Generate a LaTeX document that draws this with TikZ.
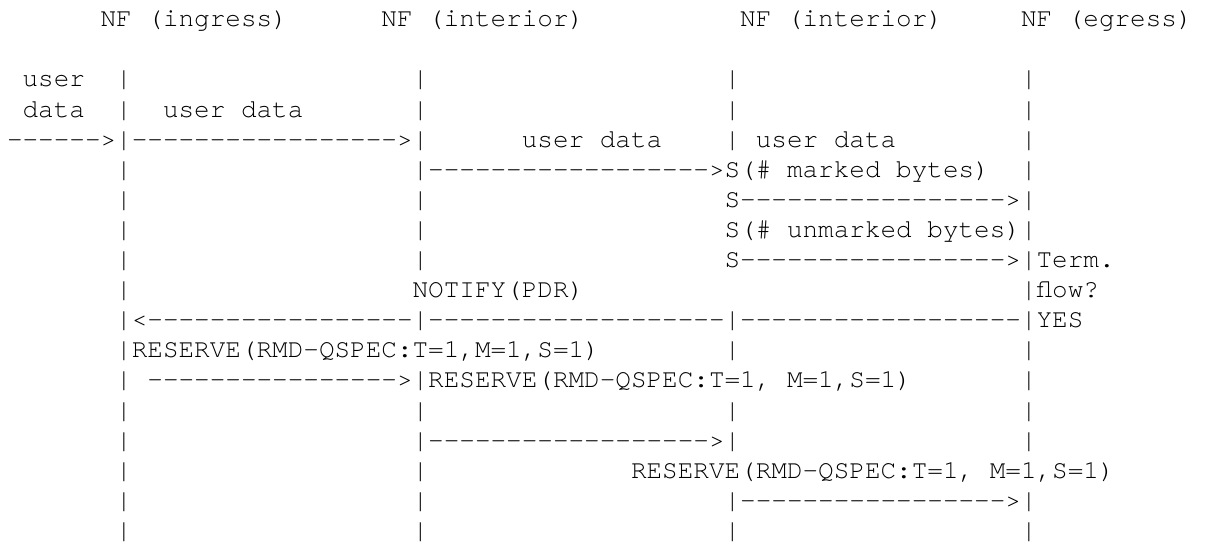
\documentclass[tikz,border=0pt]{standalone}
\usepackage{fontspec}
\setmonofont{TeX Gyre Cursor}
\ExplSyntaxOn
\cs_new:Npn \dsh #1 { \prg_replicate:nn {#1} {-} }
\ExplSyntaxOff
% character grid: left offset, cell width and row pitch in pt
\newcommand\xoff{7}
\newcommand\chw{15.6}
\newcommand\rowh{30.1}
\tikzset{
  ascii/.style={anchor=base west, inner sep=0pt, outer sep=0pt,
    font=\fontsize{26}{30}\selectfont\ttfamily, text=black},
}
% \seg{row}{column}{text}
\newcommand\seg[3]{\node[ascii] (r#1c#2) at ({\xoff+#2*\chw},{-26.7-#1*\rowh}) {#3};}
% \bars{row}{list of columns}
\newcommand\bars[2]{\foreach \c in {#2}{\seg{#1}{\c}{|}}}
\begin{document}
\begin{tikzpicture}[x=1pt,y=1pt]
\fill[white] (0,0) rectangle (1207,-546);
\useasboundingbox (0,0) rectangle (1207,-546);
% header
\seg{0}{6}{NF (ingress)}
\seg{0}{24}{NF (interior)}
\seg{0}{47}{NF (interior)}
\seg{0}{65}{NF (egress)}
% user data
\seg{2}{1}{user}
\bars{2}{7,26,46,65}
\seg{3}{1}{data}
\bars{3}{7,26,46,65}
\seg{3}{10}{user data}
\seg{4}{0}{\dsh{6}>|\dsh{17}>|}
\seg{4}{33}{user data}
\seg{4}{46}{| user data}
\bars{4}{65}
% marking at the interior node
\bars{5}{7}
\seg{5}{26}{|\dsh{18}>S(\# marked bytes)}
\bars{5}{65}
\bars{6}{7,26}
\seg{6}{46}{S\dsh{17}>|}
\bars{7}{7,26}
\seg{7}{46}{S(\# unmarked bytes)|}
\bars{8}{7,26}
\seg{8}{46}{S\dsh{17}>|Term.}
% notify
\bars{9}{7}
\seg{9}{26}{NOTIFY(PDR)}
\seg{9}{65}{|flow?}
\seg{10}{7}{|<\dsh{17}|\dsh{19}|\dsh{18}|YES}
% reserve tear-down
\seg{11}{7}{|RESERVE(RMD-QSPEC:T=1,M=1,S=1)}
\bars{11}{46,65}
\seg{12}{7}{| \dsh{16}>|RESERVE(RMD-QSPEC:T=1, M=1,S=1)}
\bars{12}{65}
\bars{13}{7,26,46,65}
\bars{14}{7}
\seg{14}{26}{|\dsh{18}>|}
\bars{14}{65}
\bars{15}{7,26}
\seg{15}{40}{RESERVE(RMD-QSPEC:T=1, M=1,S=1)}
\bars{16}{7,26}
\seg{16}{46}{|\dsh{17}>|}
\bars{17}{7,26,46,65}
\end{tikzpicture}
\end{document}
